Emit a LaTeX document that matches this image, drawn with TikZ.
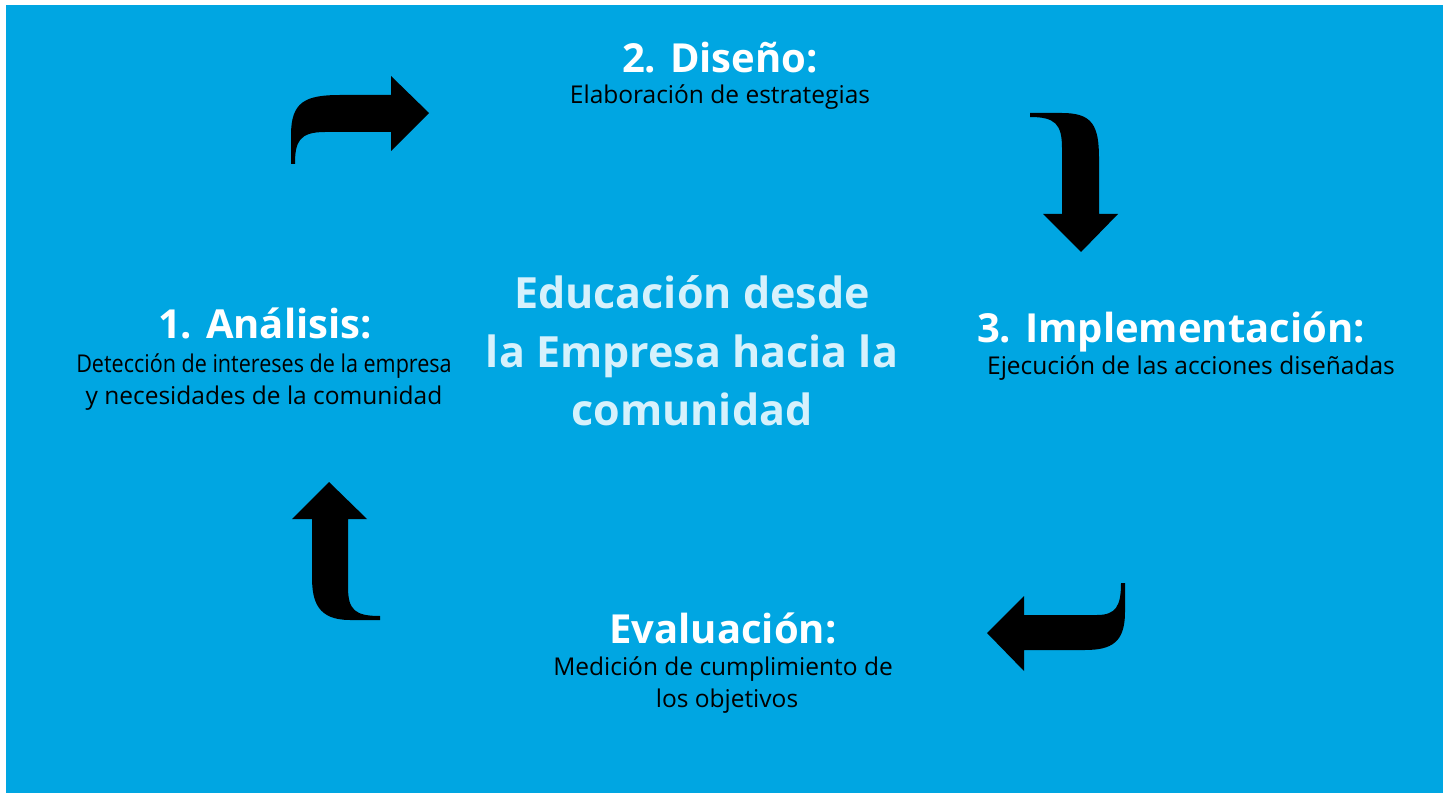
\documentclass[tikz,border=0pt]{standalone}
\usepackage{fontspec}
\setmainfont{Open Sans}
\definecolor{bgblue}{RGB}{0,166,226}
\definecolor{lightcyan}{RGB}{214,241,252}
\tikzset{
  title/.style={anchor=base, text=white, font=\bfseries\fontsize{40}{44}\selectfont, inner sep=0pt},
  sub/.style={anchor=base, text=black, font=\fontsize{24.5}{28}\selectfont, inner sep=0pt},
  center/.style={anchor=base, text=lightcyan, font=\bfseries\fontsize{43}{48}\selectfont, inner sep=0pt},
  bentarrow/.style={fill=black, draw=none}
}
\begin{document}
\begin{tikzpicture}[x=1pt,y=-1pt]
\useasboundingbox (0,0) rectangle (1449,794);
\fill[white] (0,0) rectangle (1449,794);
\fill[bgblue] (6,5) rectangle (1443,793);

% texts
\node[title] (t2) at (720,73) {2. Diseño:};
\node[sub] (s2) at (720,104) {Elaboración de estrategias};

\node[title] (t1) at (265,339) {1. Análisis:};
\node[sub] (s1a) at (264,373) {\scalebox{0.88}[1]{Detección de intereses de la empresa}};
\node[sub] (s1b) at (264,404) {y necesidades de la comunidad};

\node[title] (t3) at (1171,343) {3. Implementación:};
\node[sub] (s3) at (1191,374) {Ejecución de las acciones diseñadas};

\node[title] (t4) at (723,643) {Evaluación:};
\node[sub] (s4a) at (723,675) {Medición de cumplimiento de};
\node[sub] (s4b) at (727,707) {los objetivos};

\node[center] (c1) at (692,309) {Educación desde};
\node[center] (c2) at (692,367) {la Empresa hacia la};
\node[center] (c3) at (692,425) {comunidad};

% arrow 1: up then right
\fill[bentarrow] (291,164) -- (291,135) .. controls (291,102) and (305,95) .. (340,95)
  -- (391,95) -- (391,76) -- (429,113) -- (391,151) -- (391,132) -- (325,132)
  .. controls (299,132) and (295,142) .. (295,164) -- cycle;

% arrow 2: right then down
\fill[bentarrow] (1030,113) -- (1062,113) .. controls (1092,113) and (1099,125) .. (1099,158)
  -- (1099,214) -- (1118,214) -- (1081,252) -- (1043,214) -- (1062,214) -- (1062,148)
  .. controls (1062,124) and (1055,117) .. (1030,117) -- cycle;

% arrow 3: down then left
\fill[bentarrow] (1125,583) -- (1125,612) .. controls (1125,642) and (1112,650) .. (1085,650)
  -- (1024,650) -- (1024,671) -- (987,633) -- (1024,596) -- (1024,615) -- (1097,615)
  .. controls (1116,615) and (1121,606) .. (1121,583) -- cycle;

% arrow 4: left then up
\fill[bentarrow] (329,482) -- (367,519) -- (348,519) -- (348,587)
  .. controls (348,610) and (355,616) .. (380,616) -- (380,620) -- (350,620)
  .. controls (318,620) and (312,602) .. (312,577) -- (312,519) -- (292,519) -- cycle;
\end{tikzpicture}
\end{document}
